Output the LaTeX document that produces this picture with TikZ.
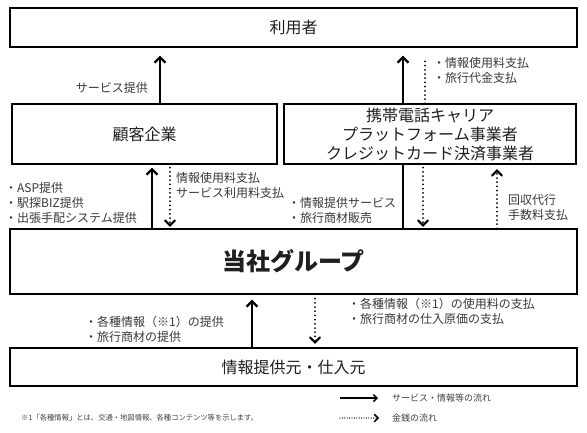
\documentclass[tikz,border=0pt]{standalone}
\usepackage{fontspec}
\setmainfont{Noto Sans CJK JP}
\usetikzlibrary{arrows.meta,decorations.markings}
\begin{document}
\begin{tikzpicture}[x=1pt,y=-1pt,
  box/.style={draw=black, line width=1.2pt, fill=white, inner sep=0pt,
    font=\fontsize{16}{19}\selectfont, text=black!88, align=center},
  lbl/.style={anchor=west, align=left, inner sep=0pt,
    font=\fontsize{12}{15}\selectfont, text=black!78},
  legtext/.style={anchor=west, inner sep=0pt, font=\fontsize{9}{11}\selectfont, text=black!75},
  flow/.style={line width=2.3pt, -{Straight Barb[length=5.5pt,width=11pt]}},
  flowline/.style={line width=2.3pt},
  moneyline/.style={line width=2pt, dash pattern=on 0pt off 4.2pt, line cap=round},
  money/.style={moneyline, shorten >=#1,
    postaction={decorate, decoration={markings, mark=at position -#1 with {
      \draw[solid, line width=2pt, line cap=round, line join=miter,
        shorten >=0pt, shorten <=0pt] (-5pt,-5pt) -- (0pt,0pt) -- (-5pt,5pt);}}}},
  moneysmall/.style={line width=1.3pt, dash pattern=on 0pt off 2.4pt, line cap=round,
    postaction={decorate, decoration={markings, mark=at position 1 with {
      \draw[solid, line width=1.5pt, line cap=round, line join=miter]
        (-3.5pt,-3.5pt) -- (0pt,0pt) -- (-3.5pt,3.5pt);}}}},
]
\useasboundingbox (0,0) rectangle (587,432);

% boxes
\node[box, minimum width=567pt, minimum height=39pt] (user) at (293.5,27.5) {利用者};
\node[box, minimum width=265pt, minimum height=60pt] (kokyaku) at (144.5,134) {顧客企業};
\node[box, minimum width=292pt, minimum height=60pt] (carrier) at (430,134)
  {携帯電話キャリア\\プラットフォーム事業者\\クレジットカード決済事業者};
\node[box, minimum width=567pt, minimum height=65pt,
  font=\fontsize{24}{28}\selectfont\bfseries] (group) at (293.5,261.5) {当社グループ};
\node[box, minimum width=567pt, minimum height=38pt] (source) at (293.5,367) {情報提供元・仕入元};

% connectors: top row
\draw[flow, shorten >=8pt] (160,0 |- kokyaku.north) -- (160,0 |- user.south);
\draw[flow, shorten >=8pt] (403,0 |- carrier.north) -- (403,0 |- user.south);
\draw[moneyline, shorten >=10pt] (425,0 |- carrier.north) -- (425,0 |- user.south);

% middle row
\draw[flow, shorten >=3pt] (152,0 |- group.north) -- (152,0 |- kokyaku.south);
\draw[money=3pt, shorten <=3pt] (170,0 |- kokyaku.south) -- (170,0 |- group.north);
\draw[flowline] (403,0 |- group.north) -- (403,0 |- carrier.south);
\draw[money=3pt, shorten <=3pt] (423,0 |- carrier.south) -- (423,0 |- group.north);
\draw[money=6pt] (497,0 |- group.north) -- (497,0 |- carrier.south);

% bottom row
\draw[flow, shorten >=5pt] (252,0 |- source.north) -- (252,0 |- group.south);
\draw[money=5pt, shorten <=4pt] (315,0 |- group.south) -- (315,0 |- source.north);

% labels
\node[lbl, anchor=east] (lsvc) at (148,88) {サービス提供};
\node[lbl] (lpay1) at (433,70) {・情報使用料支払\\・旅行代金支払};
\node[lbl] (lasp) at (5,203) {・ASP提供\\・駅探BIZ提供\\・出張手配システム提供};
\node[lbl] (lfee1) at (176,185) {情報使用料支払\\サービス利用料支払};
\node[lbl] (linfo) at (288,210) {・情報提供サービス\\・旅行商材販売};
\node[lbl] (lcoll) at (508,207.5) {回収代行\\手数料支払};
\node[lbl] (lsrc) at (85,329.5) {・各種情報（※1）の提供\\・旅行商材の提供};
\node[lbl] (lpay2) at (348,311.5) {・各種情報（※1）の使用料の支払\\・旅行商材の仕入原価の支払};

% legend
\coordinate (lgas) at (340,398);
\coordinate (lgae) at (378,398);
\coordinate (lgbs) at (340,418);
\coordinate (lgbe) at (378,418);
\draw[line width=1.5pt, -{Straight Barb[length=3.5pt,width=7pt]}] (lgas) -- (lgae);
\draw[moneysmall] (lgbs) -- (lgbe);
\node[legtext] (lga) at (392,398) {サービス・情報等の流れ};
\node[legtext] (lgb) at (392,418) {金銭の流れ};

% footnote
\node[anchor=west, inner sep=0pt, font=\fontsize{7.3}{9}\selectfont, text=black!75] (fn) at (21,418)
  {※1「各種情報」とは、交通・地図情報、各種コンテンツ等を示します。};
\end{tikzpicture}
\end{document}
